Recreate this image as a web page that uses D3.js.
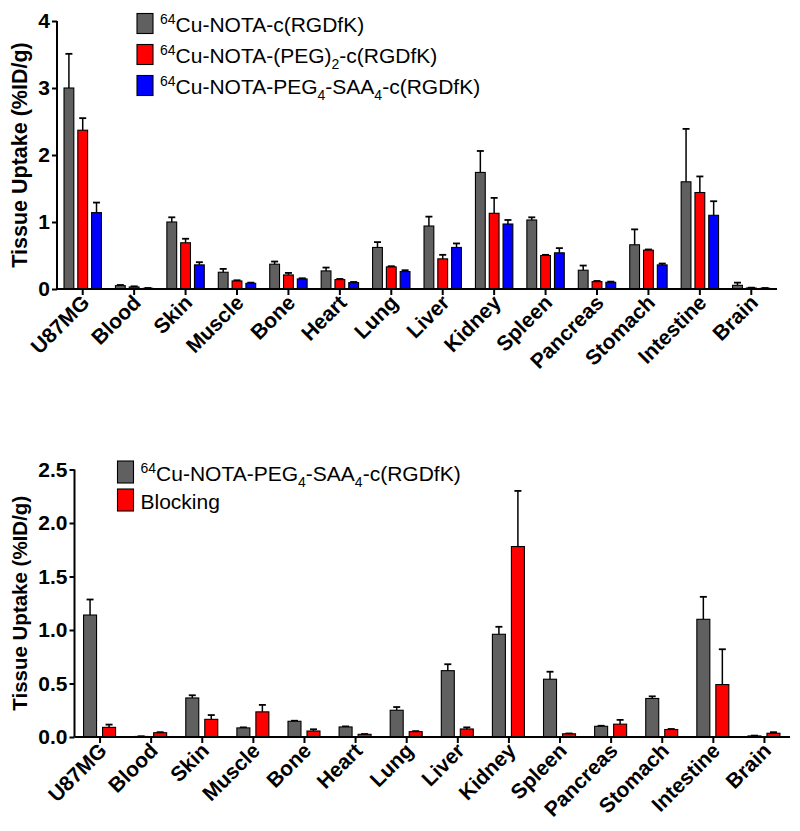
<!DOCTYPE html>
<html><head><meta charset="utf-8">
<script src="https://cdn.jsdelivr.net/npm/d3@7"></script>
<style>
body{margin:0;background:#fff;}
svg{display:block;font-family:"Liberation Sans",Arial,sans-serif;}
</style></head>
<body>
<svg id="chart" width="800" height="831"></svg>
<script>
const categories = ["U87MG","Blood","Skin","Muscle","Bone","Heart","Lung","Liver","Kidney","Spleen","Pancreas","Stomach","Intestine","Brain"];

// Top panel series
const notaMean   = [3.00,0.05,1.00,0.25,0.37,0.27,0.62,0.94,1.74,1.03,0.28,0.66,1.60,0.055];
const notaErr    = [0.51,0.01,0.07,0.05,0.04,0.05,0.08,0.14,0.32,0.04,0.07,0.23,0.79,0.04];
const peg2Mean   = [2.37,0.03,0.69,0.12,0.21,0.14,0.33,0.45,1.13,0.50,0.11,0.58,1.44,0.015];
const peg2Err    = [0.18,0.01,0.06,0.01,0.03,0.01,0.01,0.06,0.23,0.01,0.01,0.01,0.24,0.005];
const saaMean    = [1.14,0.01,0.36,0.085,0.15,0.095,0.26,0.62,0.97,0.54,0.10,0.36,1.10,0.01];
const saaErr     = [0.15,0.005,0.04,0.01,0.01,0.01,0.02,0.06,0.06,0.07,0.01,0.02,0.21,0.005];
const topTicks   = [0,1,2,3,4];

// Bottom panel series
const saaMean2   = [1.14,0.005,0.365,0.085,0.147,0.094,0.25,0.62,0.96,0.54,0.10,0.36,1.10,0.01];
const saaErr2    = [0.145,0.002,0.025,0.005,0.005,0.005,0.03,0.06,0.07,0.07,0.005,0.02,0.21,0.003];
const blockMean  = [0.09,0.04,0.165,0.235,0.056,0.025,0.05,0.075,1.78,0.03,0.12,0.07,0.49,0.035];
const blockErr   = [0.026,0.005,0.04,0.065,0.016,0.003,0.005,0.015,0.52,0.003,0.04,0.005,0.33,0.01];
const bottomTicks = [0,0.5,1.0,1.5,2.0,2.5];

const topSeries = [
  {key:"nota", label:[["64","sup"],["Cu-NOTA-c(RGDfK)",""]], mean:notaMean, err:notaErr, color:"#606060"},
  {key:"peg2", label:[["64","sup"],["Cu-NOTA-(PEG)",""],["2","sub"],["-c(RGDfK)",""]], mean:peg2Mean, err:peg2Err, color:"#ff0000"},
  {key:"saa",  label:[["64","sup"],["Cu-NOTA-PEG",""],["4","sub"],["-SAA",""],["4","sub"],["-c(RGDfK)",""]], mean:saaMean, err:saaErr, color:"#0000ff"}
];
const bottomSeries = [
  {key:"saa", label:[["64","sup"],["Cu-NOTA-PEG",""],["4","sub"],["-SAA",""],["4","sub"],["-c(RGDfK)",""]], mean:saaMean2, err:saaErr2, color:"#606060"},
  {key:"block", label:[["Blocking",""]], mean:blockMean, err:blockErr, color:"#ff0000"}
];

const svg = d3.select("#chart");
const FONT = '"Liberation Sans", Arial, sans-serif';

function drawPanel(cfg){
  const g = svg.append("g");
  const x = d3.scaleBand().domain(categories).range([cfg.x0, cfg.x1]).padding(0);
  const y = d3.scaleLinear().domain(cfg.yDomain).range([cfg.yBottom, cfg.yTop]);
  const bw = x.bandwidth();
  const inner = d3.scaleBand().domain(cfg.series.map(s=>s.key))
      .range([bw/2 - cfg.groupHalf + cfg.groupShift, bw/2 + cfg.groupHalf + cfg.groupShift])
      .paddingInner(cfg.pad).paddingOuter(cfg.pad/2);

  // bars
  cfg.series.forEach(s=>{
    const sg = g.append("g");
    categories.forEach((c,i)=>{
      const bx = x(c) + inner(s.key);
      const w = inner.bandwidth();
      const top = y(s.mean[i] + s.err[i]);
      const cx = bx + w/2;
      sg.append("line").attr("x1",cx).attr("x2",cx)
        .attr("y1",y(s.mean[i])).attr("y2",top)
        .attr("stroke","#000").attr("stroke-width",1.5);
      sg.append("line").attr("x1",cx-3.5).attr("x2",cx+3.5)
        .attr("y1",top).attr("y2",top)
        .attr("stroke","#000").attr("stroke-width",1.8);
      sg.append("rect").attr("x",bx).attr("y",y(s.mean[i]))
        .attr("width",w).attr("height",Math.max(0.5, y(0)-y(s.mean[i])))
        .attr("fill",s.color).attr("stroke","#000").attr("stroke-width",1.1);
    });
  });

  // y axis
  const ya = g.append("g").attr("transform",`translate(${cfg.x0},0)`)
    .call(d3.axisLeft(y).tickValues(cfg.ticks).tickFormat(cfg.fmt).tickSize(5).tickPadding(2));
  ya.select(".domain").attr("stroke","#000").attr("stroke-width",2).attr("d",`M0,${cfg.yTop}V${cfg.yBottom}`);
  ya.selectAll(".tick line").attr("stroke","#000").attr("stroke-width",2);
  ya.selectAll(".tick text").attr("font-family",FONT).attr("font-size",21).attr("font-weight","bold").attr("fill","#000");

  // x axis
  const xa = g.append("g").attr("transform",`translate(0,${cfg.yBottom})`)
    .call(d3.axisBottom(x).tickSize(6).tickPadding(4));
  xa.select(".domain").attr("stroke","#000").attr("stroke-width",2).attr("d",`M${cfg.x0},0H${cfg.x1}`);
  xa.selectAll(".tick line").attr("stroke","#000").attr("stroke-width",2);
  xa.selectAll(".tick text").attr("font-family",FONT).attr("font-size",21).attr("font-weight","bold").attr("fill","#000")
    .attr("text-anchor","end").attr("dy",null).attr("y",0)
    .attr("transform","translate(8,15) rotate(-45)");

  // y title
  g.append("text").attr("transform",`translate(27,${(cfg.yTop+cfg.yBottom)/2}) rotate(-90)`)
    .attr("text-anchor","middle").attr("font-family",FONT).attr("font-size",cfg.titleSize).attr("font-weight","bold")
    .text("Tissue Uptake (%ID/g)");

  // legend
  cfg.series.forEach((s,i)=>{
    const ly = cfg.legY + i*cfg.legStep;
    g.append("rect").attr("x",cfg.legX).attr("y",ly-cfg.legH+4).attr("width",16).attr("height",cfg.legH)
      .attr("fill",s.color).attr("stroke","#000").attr("stroke-width",1.1);
    const t = g.append("text").attr("x",cfg.legX+23).attr("y",ly+2)
      .attr("font-family",FONT).attr("font-size",21).attr("fill","#000");
    let shift = 0;
    s.label.forEach(([txt,kind])=>{
      let dy = 0, size = 21;
      if(kind==="sup"){ dy = -8 - shift; size = 14; shift = -8; }
      else if(kind==="sub"){ dy = 6 - shift; size = 14; shift = 6; }
      else { dy = -shift; shift = 0; }
      t.append("tspan").attr("dy",dy).attr("font-size",size).text(txt);
    });
  });
}

drawPanel({
  series: topSeries, x0:57, x1:777, yTop:21, yBottom:289, yDomain:[0,4],
  ticks: topTicks, fmt: d3.format("d"),
  groupHalf:20.7, groupShift:0, pad:0.29,
  titleSize:21.5, legX:137, legY:29.5, legStep:31, legH:20
});
drawPanel({
  series: bottomSeries, x0:74.5, x1:790, yTop:469.5, yBottom:737, yDomain:[0,2.5],
  ticks: bottomTicks, fmt: d3.format(".1f"),
  groupHalf:19, groupShift:-0.5, pad:0.316,
  titleSize:20.5, legX:117.5, legY:479, legStep:28, legH:22
});
</script>
</body></html>
